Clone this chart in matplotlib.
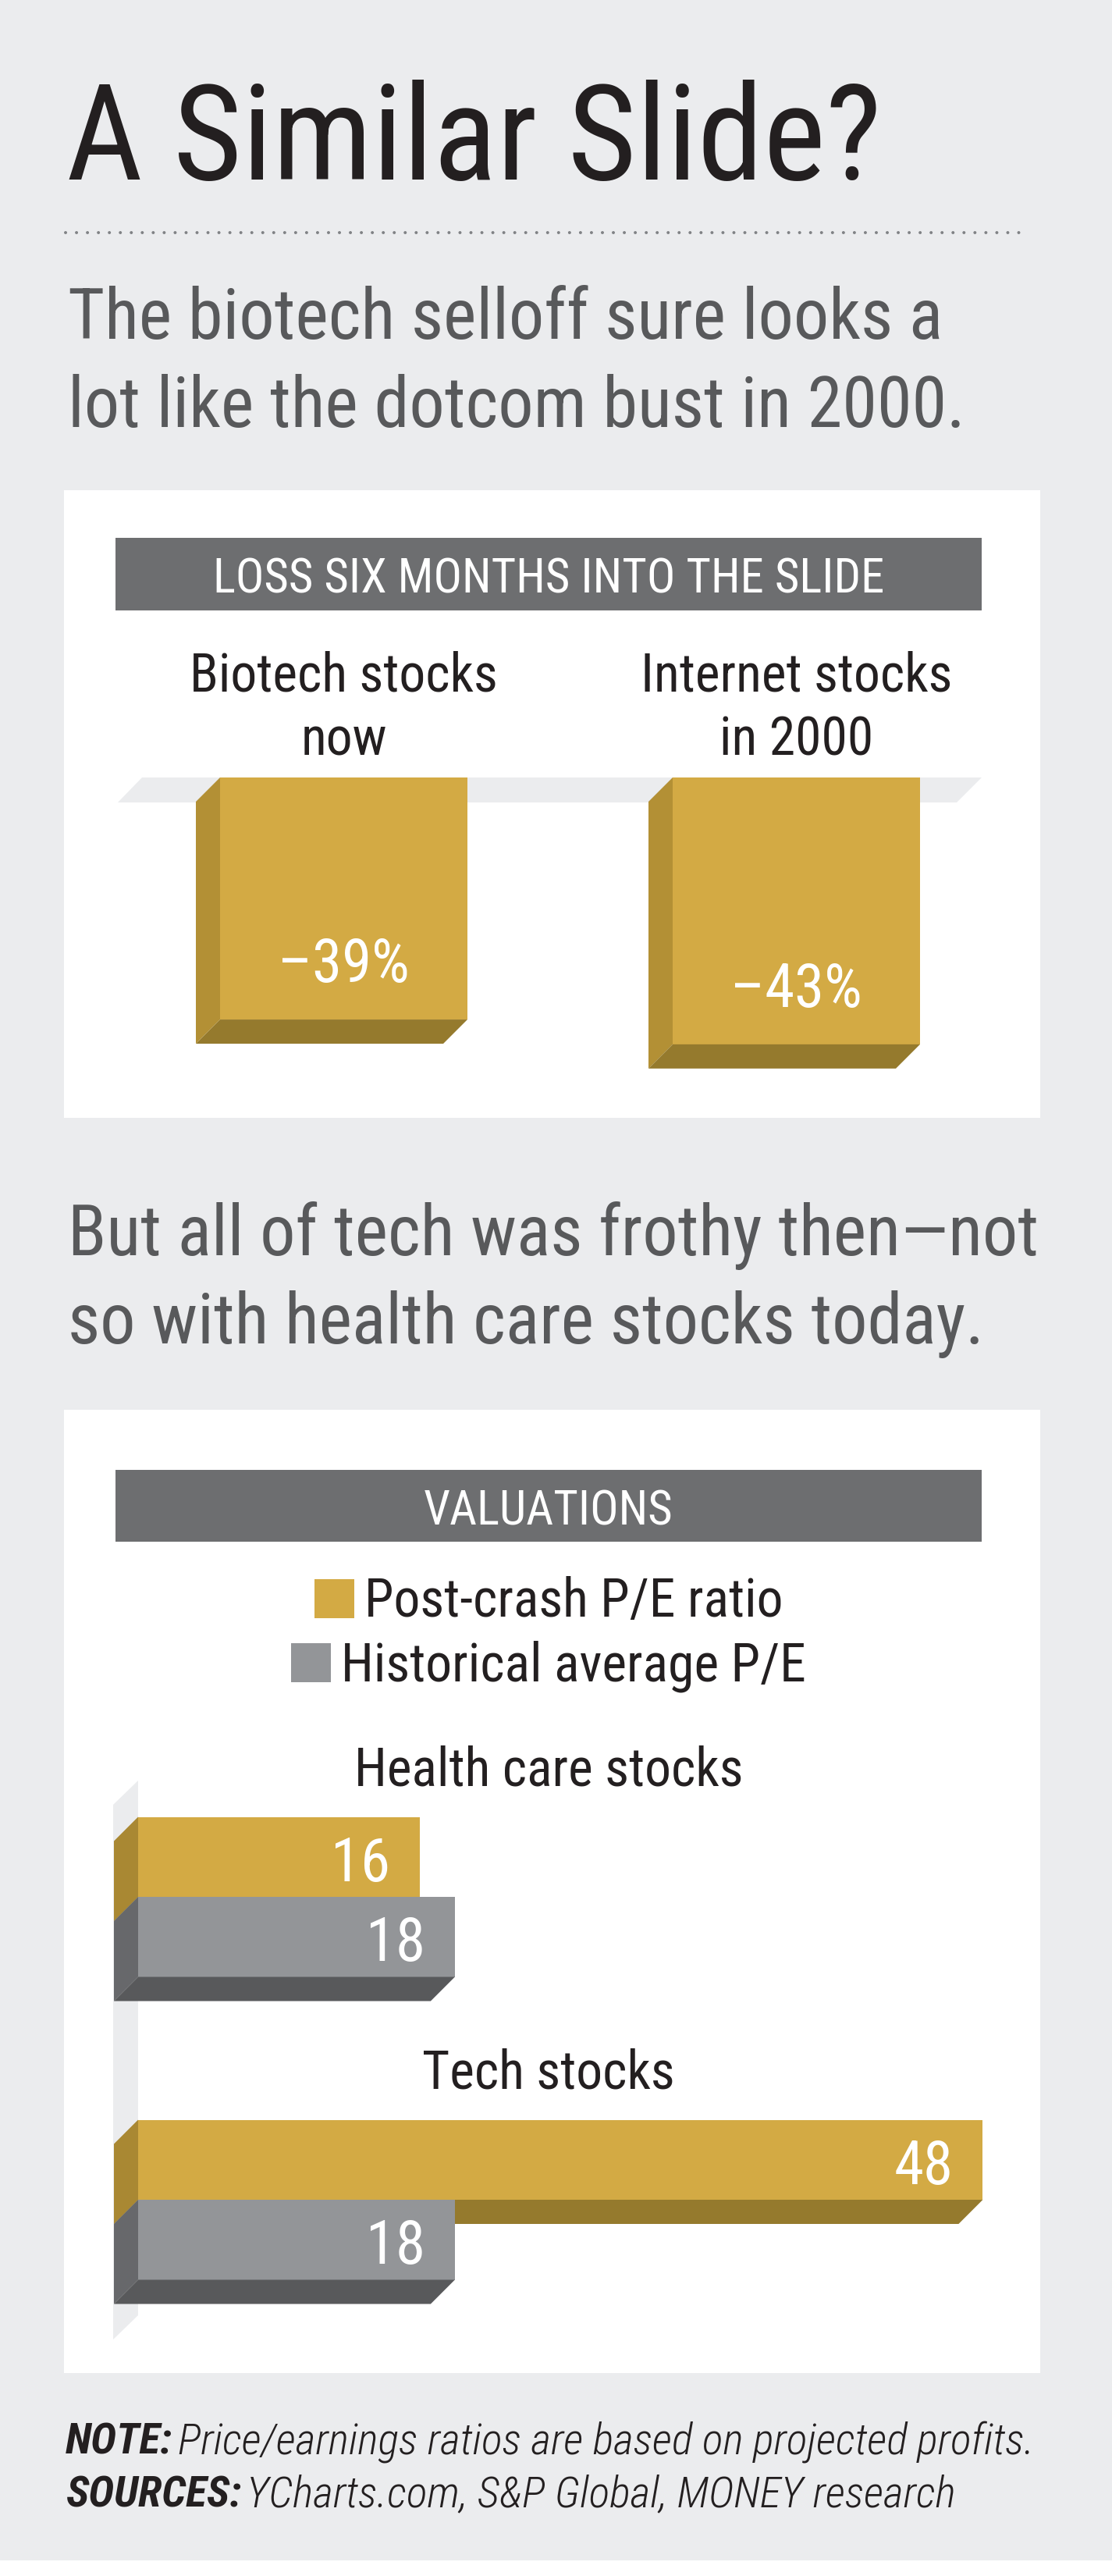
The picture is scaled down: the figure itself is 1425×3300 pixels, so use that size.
import matplotlib
matplotlib.use("Agg")
import matplotlib.pyplot as plt
from matplotlib import font_manager as fm
from matplotlib.patches import Rectangle, Polygon

# ---- data ----
loss_labels = [["Biotech stocks", "now"], ["Internet stocks", "in 2000"]]
loss_values = [-39, -43]
pe_groups = ["Health care stocks", "Tech stocks"]
pe_series = ["Post-crash P/E ratio", "Historical average P/E"]
pe_post_crash = [16, 48]
pe_historical = [18, 18]

# ---- canvas / style ----
W, H = 1425, 3300
DPI = 100
PT = 72 / DPI          # points per pixel
CAP = 0.72             # cap height / em
DEPTH = 31             # 3d extrusion, px

BG = "#ebecee"
HEADER = "#6d6e70"
INK = "#231f20"
SUB = "#58595b"
GOLD, GOLD_SIDE, GOLD_SIDE_H, GOLD_BOTTOM = "#d3aa44", "#b39035", "#a98833", "#957a2d"
GRAY, GRAY_SIDE, GRAY_BOTTOM = "#939598", "#67686b", "#58595b"
PANEL_CX = 703


def pick_font():
    entries = fm.fontManager.ttflist
    names = {e.name for e in entries}
    for name in ["Roboto Condensed", "Liberation Sans Narrow", "Noto Sans Condensed",
                 "Open Sans Condensed", "DejaVu Sans Condensed"]:
        if name in names:
            return name, "normal"
    for fam in ["Roboto", "Noto Sans", "Open Sans", "DejaVu Sans", "Liberation Sans"]:
        for e in entries:
            if e.name == fam and "condensed" in str(e.stretch) and e.style == "normal":
                return fam, "condensed"
    return "DejaVu Sans", "normal"


FAM, STRETCH = pick_font()
TXT = dict(family=FAM, fontstretch=STRETCH)


def ax_px(fig, x0, y0, x1, y1):
    ax = fig.add_axes([x0 / W, 1 - y1 / H, (x1 - x0) / W, (y1 - y0) / H])
    ax.axis("off")
    ax.patch.set_visible(False)
    return ax


def main() -> None:
    fig = plt.figure(figsize=(W / DPI, H / DPI), dpi=DPI)
    fig.patch.set_facecolor(BG)
    bg = fig.add_axes([0, 0, 1, 1])
    bg.set_xlim(0, W)
    bg.set_ylim(H, 0)
    bg.axis("off")
    renderer = fig.canvas.get_renderer()

    def width_of(s, size, **kw):
        t = bg.text(0, 0, s, fontsize=size, **TXT, **kw)
        w = t.get_window_extent(renderer).width
        t.remove()
        return w

    def fit(strings, cap_px, widths, **kw):
        size = cap_px / CAP * PT
        for s, w in zip(strings, widths):
            size = min(size, size * w / width_of(s, size, **kw))
        return size

    title_size = fit(["A Similar Slide?"], 141, [1045])
    sub_size = fit(["The biotech selloff sure looks a", "lot like the dotcom bust in 2000.",
                    "But all of tech was frothy then\u2014not", "so with health care stocks today."],
                   72, [1146, 1173, 1245, 1204])
    head_size = fit(["LOSS SIX MONTHS INTO THE SLIDE", "VALUATIONS"], 50, [873, 320])
    lab_size = fit(["Biotech stocks", "Internet stocks", "Historical average P/E", "Health care stocks"],
                   51, [401, 411, 596, 518])
    val_size = fit(["\u201343%", "48"], 64, [179, 76])
    note_size = fit(["NOTE: Price/earnings ratios are based on projected profits."], 44, [1243],
                    style="italic", weight="light")

    # Title + rule
    bg.text(85, 230, "A Similar Slide?", fontsize=title_size, color=INK, va="baseline", **TXT)
    bg.plot([84, 1318], [298, 298], color="#808285", lw=4 * PT,
            linestyle=(0, (0.01, 3.5)), dash_capstyle="round")

    # Subtitles
    bg.text(87, 434, "The biotech selloff sure looks a", fontsize=sub_size, color=SUB, va="baseline", **TXT)
    bg.text(87, 547, "lot like the dotcom bust in 2000.", fontsize=sub_size, color=SUB, va="baseline", **TXT)
    bg.text(87, 1608, "But all of tech was frothy then\u2014not", fontsize=sub_size, color=SUB, va="baseline", **TXT)
    bg.text(87, 1721, "so with health care stocks today.", fontsize=sub_size, color=SUB, va="baseline", **TXT)

    # Panels and headers
    bg.add_patch(Rectangle((82, 628), 1251, 804, facecolor="white", edgecolor="none"))
    bg.add_patch(Rectangle((82, 1806), 1251, 1234, facecolor="white", edgecolor="none"))
    bg.add_patch(Rectangle((148, 689), 1110, 93, facecolor=HEADER, edgecolor="none"))
    bg.add_patch(Rectangle((148, 1883), 1110, 92, facecolor=HEADER, edgecolor="none"))
    bg.text(PANEL_CX, 759, "LOSS SIX MONTHS INTO THE SLIDE", fontsize=head_size, color="white",
            ha="center", va="baseline", **TXT)
    bg.text(PANEL_CX, 1953, "VALUATIONS", fontsize=head_size, color="white",
            ha="center", va="baseline", **TXT)

    # Floor of chart 1 and wall of chart 2
    bg.add_patch(Polygon([(151, 1028), (182, 996), (1258, 996), (1226, 1028)],
                         closed=True, facecolor=BG, edgecolor="none"))
    bg.add_patch(Polygon([(177, 2281), (177, 2966), (145, 2997), (145, 2312)],
                         closed=True, facecolor=BG, edgecolor="none"))

    # ---- chart 1: losses ----
    ux1, uy1 = 580.0, 7.95           # px per category, px per percent
    ax1 = ax_px(fig, 440.5 - 0.5 * ux1, 996, 440.5 + 1.5 * ux1, 996 + 46 * uy1)
    ax1.set_xlim(-0.5, 1.5)
    ax1.set_ylim(-46, 0)
    xs = list(range(len(loss_values)))
    bars = ax1.bar(xs, loss_values, width=317 / ux1, color=GOLD, zorder=2, clip_on=False)
    ddx, ddy = DEPTH / ux1, DEPTH / uy1
    for x, rect, v, lines in zip(xs, bars, loss_values, loss_labels):
        xl = rect.get_x()
        xr = xl + rect.get_width()
        ax1.add_patch(Polygon([(xl, 0), (xl - ddx, -ddy), (xl - ddx, v - ddy), (xl, v)],
                              closed=True, facecolor=GOLD_SIDE, edgecolor="none", zorder=2, clip_on=False))
        ax1.add_patch(Polygon([(xl, v), (xr, v), (xr - ddx, v - ddy), (xl - ddx, v - ddy)],
                              closed=True, facecolor=GOLD_BOTTOM, edgecolor="none", zorder=2, clip_on=False))
        ax1.annotate(f"\u2013{abs(v)}%", xy=(x, v), xytext=(0, 48 * PT), textcoords="offset points",
                     ha="center", va="baseline", color="white", fontsize=val_size,
                     annotation_clip=False, **TXT)
        n = len(lines)
        for i, line in enumerate(lines):
            ax1.annotate(line, xy=(x, 0), xytext=(0, (28 + 83 * (n - 1 - i)) * PT),
                         textcoords="offset points", ha="center", va="baseline", color=INK,
                         fontsize=lab_size, annotation_clip=False, **TXT)

    # ---- legend ----
    for label, color, base in zip(pe_series, [GOLD, GRAY], [2071, 2153]):
        tw = width_of(label, lab_size)
        x0 = PANEL_CX - (51 + 13 + tw) / 2
        bg.add_patch(Rectangle((x0, base - 48), 51, 50, facecolor=color, edgecolor="none"))
        bg.text(x0 + 64, base, label, fontsize=lab_size, color=INK, va="baseline", **TXT)

    # ---- chart 2: valuations ----
    ux2, uy2 = 22.55, 388.0          # px per P/E unit, px per group
    ax2 = ax_px(fig, 177, 2430 - 0.5 * uy2, 177 + 50 * ux2, 2430 + 1.5 * uy2)
    ax2.set_xlim(0, 50)
    ax2.set_ylim(1.5, -0.5)
    h = 102.5 / uy2
    ys = list(range(len(pe_groups)))
    ddx, ddy = DEPTH / ux2, DEPTH / uy2
    series = [(pe_post_crash, -h / 2, GOLD, GOLD_SIDE_H, GOLD_BOTTOM, 2),
              (pe_historical, h / 2, GRAY, GRAY_SIDE, GRAY_BOTTOM, 3)]
    for vals, off, face, side, bottom, z in series:
        bars = ax2.barh([y + off for y in ys], vals, height=h, color=face, zorder=z, clip_on=False)
        for rect, v in zip(bars, vals):
            top = rect.get_y()
            bot = top + rect.get_height()
            ax2.add_patch(Polygon([(0, top), (-ddx, top + ddy), (-ddx, bot + ddy), (0, bot)],
                                  closed=True, facecolor=side, edgecolor="none", zorder=z, clip_on=False))
            ax2.add_patch(Polygon([(0, bot), (v, bot), (v - ddx, bot + ddy), (-ddx, bot + ddy)],
                                  closed=True, facecolor=bottom, edgecolor="none", zorder=z, clip_on=False))
            ax2.annotate(str(v), xy=(v, (top + bot) / 2), xytext=(-38 * PT, -31 * PT),
                         textcoords="offset points", ha="right", va="baseline", color="white",
                         fontsize=val_size, zorder=z + 1, annotation_clip=False, **TXT)
    for y, name in zip(ys, pe_groups):
        ax2.annotate(name, xy=(PANEL_CX / W, y - h), xycoords=("figure fraction", "data"),
                     xytext=(0, 40 * PT), textcoords="offset points", ha="center", va="baseline",
                     color=INK, fontsize=lab_size, annotation_clip=False, **TXT)

    # ---- notes ----
    for head, rest, base in [("NOTE:", "Price/earnings ratios are based on projected profits.", 3144),
                             ("SOURCES:", "YCharts.com, S&P Global, MONEY research", 3211)]:
        t = bg.text(84, base, head, fontsize=note_size, color=INK, va="baseline",
                    style="italic", weight="bold", **TXT)
        x_end = bg.transData.inverted().transform(
            (t.get_window_extent(renderer).x1, 0))[0]
        bg.text(x_end + 7, base, rest, fontsize=note_size, color=INK, va="baseline",
                style="italic", weight="light", **TXT)

    bg.add_patch(Rectangle((0, 3280), W, 20, facecolor="white", edgecolor="none"))

    fig.savefig("out.png", dpi=DPI, facecolor=BG)
    plt.close(fig)


if __name__ == "__main__":
    main()
